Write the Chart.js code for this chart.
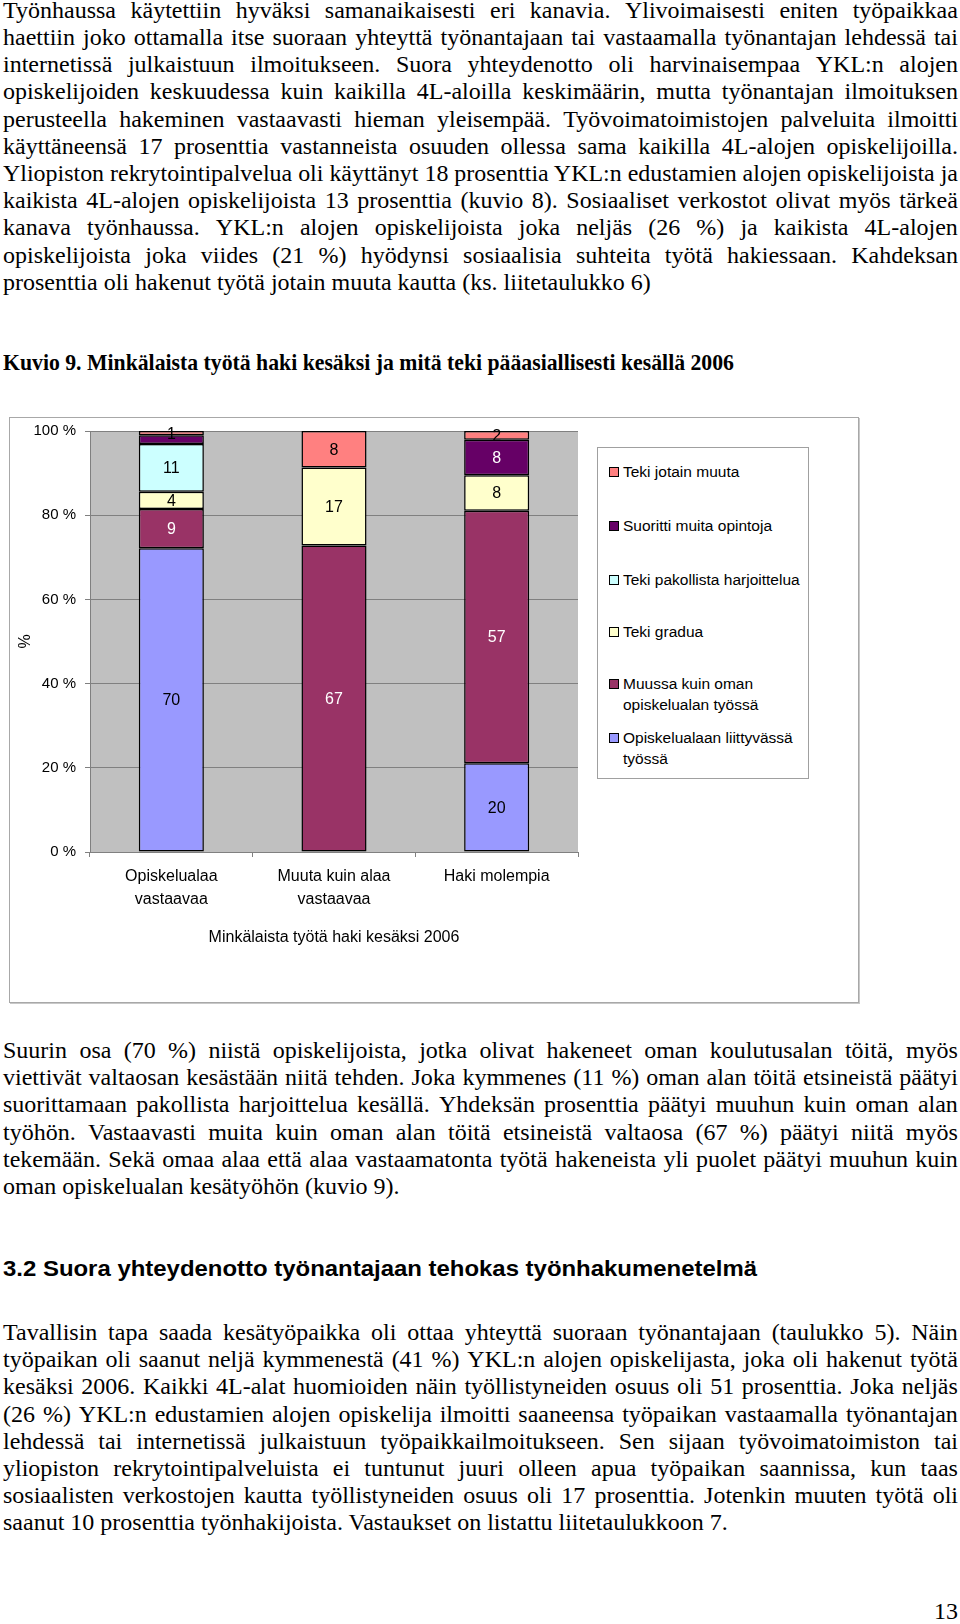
<!DOCTYPE html>
<html><head><meta charset="utf-8">
<script src="https://cdn.jsdelivr.net/npm/chart.js@4"></script>
<style>
html,body{margin:0;padding:0;background:#fff}
body{width:960px;height:1624px;position:relative;overflow:hidden;font-family:'Liberation Serif','Times New Roman',serif;color:#000}
.para{position:absolute;left:3px;width:955px;font-size:24px;line-height:27.2px}
.ln{display:flex;justify-content:space-between;white-space:nowrap;height:27.2px}
.ln span{white-space:pre}
.ln.plain{display:block;transform-origin:0 0}
.caption{position:absolute;left:3px;top:349px;font-weight:bold;font-size:23px;line-height:28px;white-space:nowrap;transform-origin:0 0}
.heading{position:absolute;left:3px;top:1255px;font-family:'Liberation Sans',Arial,sans-serif;font-weight:bold;font-size:22px;line-height:28px;white-space:nowrap;transform-origin:0 0}
.pagenum{position:absolute;right:2px;top:1597px;font-size:24px;line-height:28px}
.frame{position:absolute;left:9px;top:417px;width:848px;height:584px;border:1px solid #a8a8a8;box-shadow:1px 1px 0 #c8c8c8}
.frame canvas{position:absolute;left:0;top:0}
.legend{position:absolute;left:597px;top:447px;width:210px;height:330px;border:1px solid #a0a0a0;background:#fff;font-family:'Liberation Sans',Arial,sans-serif;font-size:15.5px;line-height:21px}
.item{position:absolute;left:11px;display:flex;align-items:flex-start}
.sw{width:8px;height:8px;border:1px solid #000;margin-top:6px;margin-right:4px;flex:none}
</style>
</head><body>

<div class="para" id="p1" style="top:-3.2px"></div>
<div class="caption" id="cap">Kuvio 9. Minkälaista työtä haki kesäksi ja mitä teki pääasiallisesti kesällä 2006</div>

<div class="frame"><canvas id="c" width="848" height="584"></canvas></div>
<div class="legend" id="legend"></div>

<div class="para" id="p2" style="top:1037px"></div>
<div class="heading" id="hd">3.2 Suora yhteydenotto työnantajaan tehokas työnhakumenetelmä</div>
<div class="para" id="p3" style="top:1319px"></div>
<div class="pagenum">13</div>

<script>
// ---- chart data ----
const categories = [['Opiskelualaa', 'vastaavaa'], ['Muuta kuin alaa', 'vastaavaa'], 'Haki molempia'];
const seriesNames = [
  ['Opiskelualaan liittyvässä', 'työssä'],
  ['Muussa kuin oman', 'opiskelualan työssä'],
  ['Teki gradua'],
  ['Teki pakollista harjoittelua'],
  ['Suoritti muita opintoja'],
  ['Teki jotain muuta']
];
const opiskelualaanTyossa = [70, null, 20];
const muussaTyossa = [9, 67, 57];
const tekiGradua = [4, 17, 8];
const pakollistaHarjoittelua = [11, null, null];
const muitaOpintoja = [2, null, 8];
const jotainMuuta = [1, 8, 2];
const yTickValues = [0, 20, 40, 60, 80, 100];
const xTitle = 'Minkälaista työtä haki kesäksi 2006';
const yTitle = '%';

const seriesValues = [opiskelualaanTyossa, muussaTyossa, tekiGradua, pakollistaHarjoittelua, muitaOpintoja, jotainMuuta];
const seriesColors = ['#9999FF', '#993366', '#FFFFCC', '#CCFFFF', '#660066', '#FF8080'];
const labelColors = ['#000', '#fff', '#000', '#000', '#fff', '#000'];
const hiddenLabels = [[], [], [], [], [0], []];

// 100 % stacking: share of each category total
const totals = categories.map((_, j) => seriesValues.reduce((s, arr) => s + (arr[j] || 0), 0));

const datasets = seriesValues.map((arr, i) => ({
  label: seriesNames[i].join(' '),
  data: arr.map((v, j) => v == null ? null : v / totals[j] * 100),
  rawValues: arr,
  labelColor: labelColors[i],
  hideLabel: hiddenLabels[i],
  backgroundColor: seriesColors[i],
  borderColor: '#000',
  borderWidth: 1.5,
  borderSkipped: false,
  categoryPercentage: 0.8,
  barPercentage: 0.5
}));

const plotBg = {
  id: 'plotBg',
  beforeDraw(chart) {
    const {ctx, chartArea: a} = chart;
    ctx.save();
    ctx.fillStyle = '#C0C0C0';
    ctx.fillRect(a.left, a.top, a.right - a.left, a.bottom - a.top);
    ctx.restore();
  }
};

const valueLabels = {
  id: 'valueLabels',
  afterDatasetsDraw(chart) {
    const ctx = chart.ctx;
    ctx.save();
    ctx.font = '16px "Liberation Sans", Arial, sans-serif';
    ctx.textAlign = 'center';
    ctx.textBaseline = 'middle';
    chart.data.datasets.forEach((ds, i) => {
      const meta = chart.getDatasetMeta(i);
      meta.data.forEach((bar, j) => {
        const v = ds.rawValues[j];
        if (v == null || ds.hideLabel.includes(j)) return;
        const p = bar.getProps(['x', 'y', 'base'], true);
        ctx.fillStyle = ds.labelColor;
        ctx.fillText(String(v), p.x, (p.y + p.base) / 2 + 1);
      });
    });
    ctx.restore();
  }
};

Chart.defaults.font.family = '"Liberation Sans", Arial, sans-serif';
Chart.defaults.color = '#000';

new Chart(document.getElementById('c'), {
  type: 'bar',
  data: {labels: categories, datasets},
  options: {
    responsive: false,
    animation: false,
    layout: {padding: {top: 13, right: 280, left: 0, bottom: 0}},
    plugins: {legend: {display: false}, tooltip: {enabled: false}},
    scales: {
      x: {
        stacked: true,
        afterFit(s) { s.height = 150; },
        grid: {drawOnChartArea: false, drawTicks: true, tickLength: 5, color: '#808080', offset: true},
        border: {display: true, color: '#808080', width: 1},
        ticks: {font: {size: 16, lineHeight: 1.44}, padding: 8, maxRotation: 0, autoSkip: false},
        title: {display: true, text: xTitle, font: {size: 16}, padding: {top: 0, bottom: 55}}
      },
      y: {
        stacked: true,
        min: 0, max: 100,
        afterFit(s) { s.width = 80; s.paddingTop = 0; s.paddingBottom = 0; },
        afterBuildTicks(s) { s.ticks = yTickValues.map(v => ({value: v})); },
        grid: {color: '#808080', lineWidth: 1, tickLength: 5},
        border: {display: true, color: '#808080', width: 1},
        ticks: {font: {size: 15}, padding: 9, callback: v => v + ' %'},
        title: {display: true, text: yTitle, font: {size: 16}, padding: 6}
      }
    }
  },
  plugins: [plotBg, valueLabels]
});

// ---- legend (series listed top of stack first) ----
const legend = document.getElementById('legend');
const legendCenters = [23, 77, 131, 183, 235, 289];
for (let k = 0; k < seriesNames.length; k++) {
  const i = seriesNames.length - 1 - k;
  const it = document.createElement('div');
  it.className = 'item';
  it.style.top = (legendCenters[k] - 10.5) + 'px';
  const sw = document.createElement('div');
  sw.className = 'sw';
  sw.style.background = seriesColors[i];
  const tx = document.createElement('div');
  tx.innerHTML = seriesNames[i].join('<br>');
  it.appendChild(sw); it.appendChild(tx);
  legend.appendChild(it);
}

// ---- page text ----
const FULLW = 955;
function fillPara(id, lines) {
  const el = document.getElementById(id);
  lines.forEach((line, idx) => {
    const d = document.createElement('div');
    d.className = 'ln plain';
    const span = document.createElement('span');
    span.style.whiteSpace = 'pre';
    span.textContent = line;
    d.appendChild(span);
    el.appendChild(d);
    const nat = span.getBoundingClientRect().width;
    const isLast = idx === lines.length - 1;
    if (nat > FULLW) {
      d.style.transform = 'scaleX(' + (FULLW / nat) + ')';
    } else if (!isLast) {
      d.className = 'ln';
      d.textContent = '';
      line.split(' ').forEach(w => { const s = document.createElement('span'); s.textContent = w; d.appendChild(s); });
    }
  });
}
fillPara('p1', [
  'Työnhaussa käytettiin hyväksi samanaikaisesti eri kanavia. Ylivoimaisesti eniten työpaikkaa',
  'haettiin joko ottamalla itse suoraan yhteyttä työnantajaan tai vastaamalla työnantajan lehdessä tai',
  'internetissä julkaistuun ilmoitukseen. Suora yhteydenotto oli harvinaisempaa YKL:n alojen',
  'opiskelijoiden keskuudessa kuin kaikilla 4L-aloilla keskimäärin, mutta työnantajan ilmoituksen',
  'perusteella hakeminen vastaavasti hieman yleisempää. Työvoimatoimistojen palveluita ilmoitti',
  'käyttäneensä 17 prosenttia vastanneista osuuden ollessa sama kaikilla 4L-alojen opiskelijoilla.',
  'Yliopiston rekrytointipalvelua oli käyttänyt 18 prosenttia YKL:n edustamien alojen opiskelijoista ja',
  'kaikista 4L-alojen opiskelijoista 13 prosenttia (kuvio 8). Sosiaaliset verkostot olivat myös tärkeä',
  'kanava työnhaussa. YKL:n alojen opiskelijoista joka neljäs (26 %) ja kaikista 4L-alojen',
  'opiskelijoista joka viides (21 %) hyödynsi sosiaalisia suhteita työtä hakiessaan. Kahdeksan',
  'prosenttia oli hakenut työtä jotain muuta kautta (ks. liitetaulukko 6)'
]);
fillPara('p2', [
  'Suurin osa (70 %) niistä opiskelijoista, jotka olivat hakeneet oman koulutusalan töitä, myös',
  'viettivät valtaosan kesästään niitä tehden. Joka kymmenes (11 %) oman alan töitä etsineistä päätyi',
  'suorittamaan pakollista harjoittelua kesällä. Yhdeksän prosenttia päätyi muuhun kuin oman alan',
  'työhön. Vastaavasti muita kuin oman alan töitä etsineistä valtaosa (67 %) päätyi niitä myös',
  'tekemään. Sekä omaa alaa että alaa vastaamatonta työtä hakeneista yli puolet päätyi muuhun kuin',
  'oman opiskelualan kesätyöhön (kuvio 9).'
]);
fillPara('p3', [
  'Tavallisin tapa saada kesätyöpaikka oli ottaa yhteyttä suoraan työnantajaan (taulukko 5). Näin',
  'työpaikan oli saanut neljä kymmenestä (41 %) YKL:n alojen opiskelijasta, joka oli hakenut työtä',
  'kesäksi 2006. Kaikki 4L-alat huomioiden näin työllistyneiden osuus oli 51 prosenttia. Joka neljäs',
  '(26 %) YKL:n edustamien alojen opiskelija ilmoitti saaneensa työpaikan vastaamalla työnantajan',
  'lehdessä tai internetissä julkaistuun työpaikkailmoitukseen. Sen sijaan työvoimatoimiston tai',
  'yliopiston rekrytointipalveluista ei tuntunut juuri olleen apua työpaikan saannissa, kun taas',
  'sosiaalisten verkostojen kautta työllistyneiden osuus oli 17 prosenttia. Jotenkin muuten työtä oli',
  'saanut 10 prosenttia työnhakijoista. Vastaukset on listattu liitetaulukkoon 7.'
]);
function fitWidth(id, w) {
  const el = document.getElementById(id);
  const nat = el.getBoundingClientRect().width;
  el.style.transform = 'scaleX(' + (w / nat) + ')';
}
fitWidth('cap', 731);
fitWidth('hd', 754);
</script>
</body></html>
